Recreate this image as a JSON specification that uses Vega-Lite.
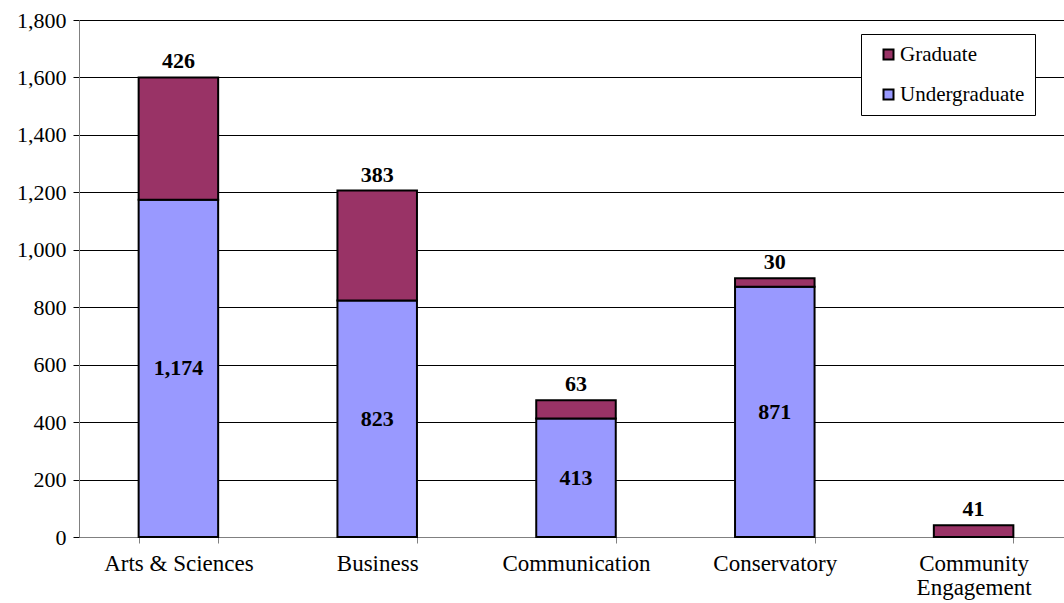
{
  "$schema": "https://vega.github.io/schema/vega-lite/v6.json",
  "width": 994,
  "height": 517,
  "autosize": {"type": "none"},
  "padding": {"left": 79, "top": 20, "right": 0, "bottom": 66},
  "background": "white",
  "data": {
    "values": [
      {"School": "Arts & Sciences", "Undergraduate": 1174, "Graduate": 426},
      {"School": "Business", "Undergraduate": 823, "Graduate": 383},
      {"School": "Communication", "Undergraduate": 413, "Graduate": 63},
      {"School": "Conservatory", "Undergraduate": 871, "Graduate": 30},
      {"School": "Community Engagement", "Undergraduate": 0, "Graduate": 41}
    ]
  },
  "encoding": {
    "x": {
      "field": "School",
      "type": "nominal",
      "sort": null,
      "title": null,
      "scale": {"paddingInner": 0.6, "paddingOuter": 0.3},
      "axis": {
        "labelAngle": 0,
        "labelFont": "Liberation Serif",
        "labelFontSize": 23,
        "labelColor": "black",
        "labelPadding": 9,
        "labelExpr": "datum.value == 'Community Engagement' ? ['Community', 'Engagement'] : datum.value",
        "labelLineHeight": 24,
        "tickBand": "extent",
        "tickSize": 6,
        "tickColor": "#808080",
        "domainColor": "#808080",
        "grid": false
      }
    }
  },
  "layer": [
    {
      "transform": [
        {"fold": ["Undergraduate", "Graduate"], "as": ["Level", "Students"]},
        {"calculate": "datum.Level == 'Undergraduate' ? 0 : 1", "as": "order"}
      ],
      "mark": {"type": "bar", "stroke": "black", "strokeWidth": 2},
      "encoding": {
        "y": {
          "field": "Students",
          "type": "quantitative",
          "stack": "zero",
          "title": null,
          "scale": {"domain": [0, 1800], "nice": false},
          "axis": {
            "values": [0, 200, 400, 600, 800, 1000, 1200, 1400, 1600, 1800],
            "format": ",d",
            "labelFont": "Liberation Serif",
            "labelFontSize": 22,
            "labelColor": "black",
            "labelPadding": 7,
            "tickSize": 6,
            "tickColor": "black",
            "domainColor": "#808080",
            "gridColor": "black",
            "gridOpacity": 1,
            "gridWidth": 1
          }
        },
        "order": {"field": "order", "type": "quantitative"},
        "color": {
          "field": "Level",
          "type": "nominal",
          "sort": ["Graduate", "Undergraduate"],
          "scale": {"domain": ["Graduate", "Undergraduate"], "range": ["#993366", "#9999FF"]},
          "legend": {
            "title": null,
            "orient": "none",
            "legendX": 782,
            "legendY": 14,
            "strokeColor": "black",
            "fillColor": "white",
            "padding": 10,
            "rowPadding": 18,
            "symbolType": "square",
            "symbolSize": 100,
            "symbolOffset": 7,
            "symbolStrokeColor": "black",
            "symbolStrokeWidth": 2,
            "symbolOpacity": 1,
            "labelFont": "Liberation Serif",
            "labelFontSize": 21,
            "labelColor": "black",
            "labelOffset": 1,
            "labelLimit": 250
          }
        }
      }
    },
    {
      "transform": [{"calculate": "datum.Undergraduate + datum.Graduate", "as": "Total"}],
      "mark": {
        "type": "text",
        "font": "Liberation Serif",
        "fontSize": 22,
        "fontWeight": "bold",
        "baseline": "bottom",
        "dy": -4,
        "color": "black"
      },
      "encoding": {
        "y": {"field": "Total", "type": "quantitative"},
        "text": {"field": "Graduate", "type": "quantitative", "format": ",d"}
      }
    },
    {
      "transform": [
        {"filter": "datum.Undergraduate > 0"},
        {"calculate": "datum.Undergraduate / 2", "as": "Mid"}
      ],
      "mark": {
        "type": "text",
        "font": "Liberation Serif",
        "fontSize": 22,
        "fontWeight": "bold",
        "baseline": "middle",
        "color": "black"
      },
      "encoding": {
        "y": {"field": "Mid", "type": "quantitative"},
        "text": {"field": "Undergraduate", "type": "quantitative", "format": ",d"}
      }
    }
  ],
  "config": {"view": {"stroke": null}}
}
